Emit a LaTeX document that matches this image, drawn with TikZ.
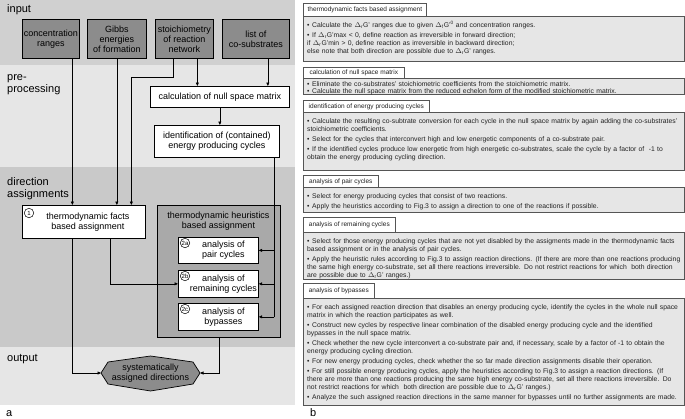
\documentclass[tikz,border=0pt]{standalone}
\usepackage{fontspec}
\setmainfont{Liberation Sans}
\usetikzlibrary{arrows.meta,calc}
\definecolor{bandin}{HTML}{D0D0D0}
\definecolor{bandpre}{HTML}{E6E6E6}
\definecolor{banddir}{HTML}{C9C9C9}
\definecolor{bandout}{HTML}{E6E6E6}
\definecolor{inputgray}{HTML}{8C8C8C}
\definecolor{heurgray}{HTML}{A9A9A9}
\definecolor{panelgray}{HTML}{E6E6E6}
\definecolor{paneledge}{HTML}{555555}
\definecolor{paneltext}{HTML}{222222}
\newlength{\itemgap}
\setlength{\itemgap}{2pt}
\newcommand{\bitem}[1]{\par\noindent\hangindent=5pt\hangafter=1\makebox[5pt][l]{\textbullet}#1\par\vspace{\itemgap}}
\newcommand{\dr}{\(\Delta\)\textsubscript{r}G'}
\begin{document}
\begin{tikzpicture}[x=1pt,y=-1pt,
  arr/.style={draw=black, line width=0.6pt, -{Triangle[length=3.5pt,width=3pt]}},
  ln/.style={draw=black, line width=0.6pt},
  inbox/.style={draw=black, line width=0.7pt, fill=inputgray, anchor=north west, align=center, font=\fontsize{9}{10}\selectfont, inner sep=0pt},
  wbox/.style={draw=black, line width=0.7pt, fill=white, anchor=north west, align=center, font=\fontsize{9}{10}\selectfont, inner sep=0pt},
  txt/.style={align=center, font=\fontsize{9}{10}\selectfont, inner sep=0pt},
  band/.style={anchor=base west, align=left, font=\fontsize{11}{12}\selectfont, inner sep=0pt},
  num/.style={draw=black, line width=0.5pt, circle, fill=white, inner sep=0pt, minimum size=9.5pt, font=\fontsize{6}{6}\selectfont},
  content/.style={draw=paneledge, line width=0.8pt, fill=panelgray, anchor=north west, inner sep=0pt, minimum width=381pt},
  tab/.style={draw=paneledge, line width=0.7pt, fill=white, anchor=north west, inner sep=0pt, font=\fontsize{6.5}{7}\selectfont, text=paneltext},
  ptext/.style={anchor=north west, inner sep=0pt, text width=385pt, font=\fontsize{6.8}{8}\selectfont, text=paneltext},
]
\useasboundingbox (0,0) rectangle (685,418);
% bands
\fill[bandin] (0,0) rectangle (295,65);
\fill[bandpre] (0,65) rectangle (295,167);
\fill[banddir] (0,167) rectangle (295,347);
\fill[bandout] (0,347) rectangle (295,405);
\node[band] (Linput) at (7,12) {input};
\node[band] (Lpre) at (7,80) {pre-};
\node[band] (Lproc) at (7,92) {processing};
\node[band] (Ldir) at (7,185) {direction};
\node[band] (Lass) at (7,197) {assignments};
\node[band] (Lout) at (7,361) {output};
\node[band] (La) at (6,416) {a};
\node[band] (Lb) at (310,416) {b};

% input boxes
\node[inbox, minimum width=57pt, minimum height=39pt] (conc) at (22,19) {concentration\\ranges};
\node[inbox, minimum width=59pt, minimum height=39pt] (gibbs) at (87,19) {Gibbs\\energies\\of formation};
\node[inbox, minimum width=58pt, minimum height=39pt] (stoich) at (155,19) {stoichiometry\\of reaction\\network};
\node[inbox, minimum width=67pt, minimum height=39pt] (cosub) at (222,19) {list of\\co-substrates};

% pre-processing
\node[wbox, minimum width=139pt, minimum height=21pt] (nullsp) at (150,86) {calculation of null space matrix};
\node[wbox, minimum width=125pt, minimum height=32pt] (ident) at (154,125) {identification of (contained)\\energy producing cycles};

% direction assignments
\node[wbox, minimum width=123pt, minimum height=33pt] (facts) at (22,205) {};
\node[txt] (factsT) at ([xshift=4pt]facts.center) {thermodynamic facts\\based assignment};
\node[num] (n1) at (29,213) {1};

\node[draw=black, line width=0.7pt, fill=heurgray, anchor=north west, inner sep=0pt, minimum width=123pt, minimum height=132pt] (heur) at (157,205) {};
\node[txt] (heurT) at (218.5,221) {thermodynamic heuristics\\based assignment};
\node[wbox, minimum width=80pt, minimum height=26pt] (h2a) at (178,237) {};
\node[wbox, minimum width=80pt, minimum height=27pt] (h2b) at (178,270) {};
\node[wbox, minimum width=80pt, minimum height=27pt] (h2c) at (178,303) {};
\node[txt] (h2aT) at ([xshift=5pt]h2a.center) {analysis of\\pair cycles};
\node[txt] (h2bT) at ([xshift=5pt]h2b.center) {analysis of\\remaining cycles};
\node[txt] (h2cT) at ([xshift=5pt]h2c.center) {analysis of\\bypasses};
\node[num] (n2a) at (185,243) {2a};
\node[num] (n2b) at (185,276) {2b};
\node[num] (n2c) at (185,309) {2c};

% output
\coordinate (outL) at (101,373);
\coordinate (outR) at (200,373);
\draw[black, line width=0.7pt, fill=inputgray] (outL) -- (108,362) -- (150.5,356) -- (193,362) -- (outR) -- (193,384) -- (150.5,391) -- (108,384) -- cycle;
\node[txt] (outT) at (150.5,373) {systematically\\assigned directions};

% connectors
\coordinate (cA) at ([xshift=21.5pt]conc.south);
\draw[arr] (cA) -- (cA |- facts.north);
\draw[arr] (gibbs.south) -- (gibbs.south |- facts.north);
\coordinate (sA) at ([xshift=-11pt]stoich.south);
\coordinate (fB) at ([xshift=47.5pt]facts.north);
\draw[arr] (sA) -- ++(0,19) -| (fB);
\coordinate (sB) at ([xshift=13pt]stoich.south);
\draw[arr] (sB) -- (sB |- nullsp.north);
\coordinate (kB) at ([xshift=12pt]cosub.south);
\draw[arr] (kB) -- (kB |- nullsp.north);
\draw[arr] (nullsp.south) -- (nullsp.south |- ident.north);
\coordinate (iB) at ([xshift=57.5pt]ident.south);
\draw[ln] (iB) -- (iB |- h2c.east);
\draw[arr] (iB |- h2a.east) -- (h2a.east);
\draw[arr] (iB |- h2b.east) -- (h2b.east);
\draw[arr] (iB |- h2c.east) -- (h2c.east);
\coordinate (fL) at ([xshift=-11.5pt]facts.south);
\coordinate (fR) at ([xshift=26.5pt]facts.south);
\draw[arr] (fL) |- (outL);
\draw[arr] (fR) |- (h2b.west);
\draw[arr] (heur.south) |- (outR);

% right panel
\node[content, minimum height=45pt] (c1) at (303,16) {};
\node[tab, minimum width=123pt, minimum height=13pt] (t1) at (303,3) {thermodynamic facts based assignment};
\node[ptext] (x1) at (307,19) {%
\bitem{Calculate the \dr{} ranges due to given \(\Delta\)\textsubscript{f}G'\textsuperscript{0} and concentration ranges.}
\bitem{If \dr max < 0, define reaction as irreversible in forward direction;\\
if \dr min > 0, define reaction as irreversible in backward direction;\\
else note that both direction are possible due to \dr{} ranges.}};

\node[content, minimum height=16pt] (c2) at (303,78) {};
\node[tab, minimum width=101pt, minimum height=11pt] (t2) at (303,67) {calculation of null space matrix};
\node[ptext, font=\fontsize{6.8}{7.2}\selectfont] (x2) at (307,79) {\setlength{\itemgap}{0pt}%
\bitem{Eliminate the co-substrates' stoichiometric coefficients from the stoichiometric matrix.}
\bitem{Calculate the null space matrix from the reduced echelon form of the modified stoichiometric matrix.}};

\node[content, minimum height=58pt] (c3) at (303,112) {};
\node[tab, minimum width=126pt, minimum height=12pt] (t3) at (303,100) {identification of energy producing cycles};
\node[ptext] (x3) at (307,115) {%
\bitem{Calculate the resulting co-subtrate conversion for each cycle in the null space matrix by again adding the co-substrates'\\
stoichiometric coefficients.}
\bitem{Select for the cycles that interconvert high and low energetic components of a co-substrate pair.}
\bitem{If the identified cycles produce low energetic from high energetic co-substrates, scale the cycle by a factor of~ -1 to\\
obtain the energy producing cycling direction.}};

\node[content, minimum height=25pt] (c4) at (303,187) {};
\node[tab, minimum width=75pt, minimum height=12pt] (t4) at (303,175) {analysis of pair cycles};
\node[ptext] (x4) at (307,190) {%
\bitem{Select for energy producing cycles that consist of two reactions.}
\bitem{Apply the heuristics according to Fig.3 to assign a direction to one of the reactions if possible.}};

\node[content, minimum height=47pt] (c5) at (303,232) {};
\node[tab, minimum width=92pt, minimum height=15pt] (t5) at (303,217) {analysis of remaining cycles};
\node[ptext] (x5) at (307,235) {%
\bitem{Select for those energy producing cycles that are not yet disabled by the assigments made in the thermodynamic facts\\
based assignment or in the analysis of pair cycles.}
\bitem{Apply the heuristic rules according to Fig.3 to assign reaction directions. (If there are more than one reactions producing\\
the same high energy co-substrate, set all there reactions irreversible. Do not restrict reactions for which~ both direction\\
are possible due to \dr{} ranges.)}};

\node[content, minimum height=107pt] (c6) at (303,298) {};
\node[tab, minimum width=71pt, minimum height=15pt] (t6) at (303,283) {analysis of bypasses};
\node[ptext] (x6) at (307,301) {%
\bitem{For each assigned reaction direction that disables an energy producing cycle, identify the cycles in the whole null space\\
matrix in which the reaction participates as well.}
\bitem{Construct new cycles by respective linear combination of the disabled energy producing cycle and the identified\\
bypasses in the null space matrix.}
\bitem{Check whether the new cycle interconvert a co-substrate pair and, if necessary, scale by a factor of -1 to obtain the\\
energy producing cycling direction.}
\bitem{For new energy producing cycles, check whether the so far made direction assignments disable their operation.}
\bitem{For still possible energy producing cycles, apply the heuristics according to Fig.3 to assign a reaction directions. (If\\
there are more than one reactions producing the same high energy co-substrate, set all there reactions irreversible. Do\\
not restrict reactions for which~ both direction are possible due to \dr{} ranges.)}
\bitem{Analyze the such assigned reaction directions in the same manner for bypasses until no further assignments are made.}};
\end{tikzpicture}
\end{document}
